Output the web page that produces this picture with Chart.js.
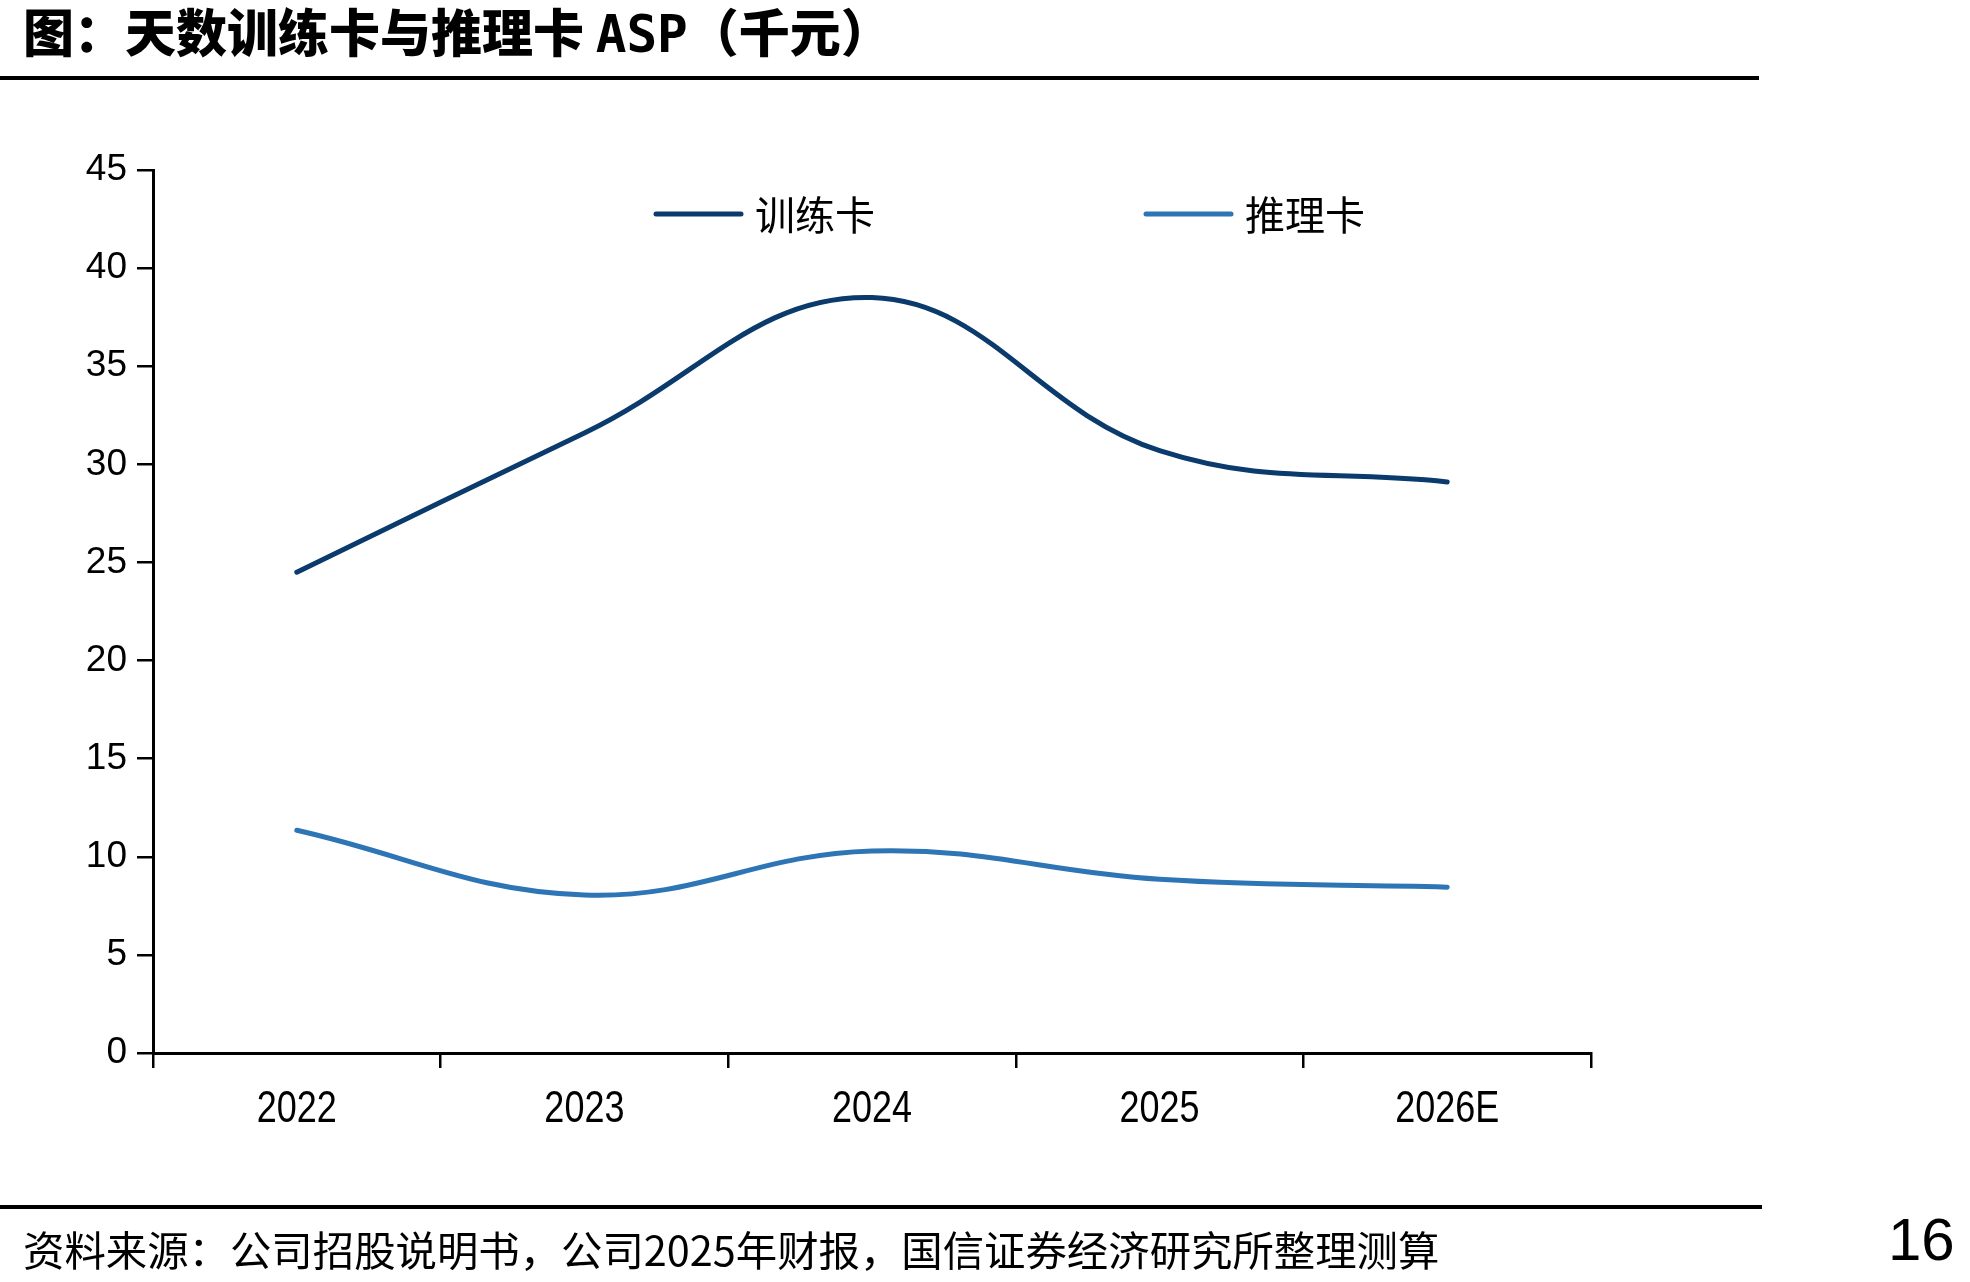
<!DOCTYPE html>
<html>
<head>
<meta charset="utf-8">
<script src="https://cdn.jsdelivr.net/npm/chart.js@4.4.1/dist/chart.umd.min.js"></script>
<style>
	body { margin: 0; background: #fff; }
	#page { position: relative; width: 1970px; height: 1282px; overflow: hidden; }
	#title { position: absolute; left: 23px; top: 0px; font: 900 51px 'Noto Sans CJK SC'; line-height: 60px; color: #000; white-space: nowrap; }
	#title .en { font-family: 'DejaVu Sans Mono', monospace; font-weight: bold; }
	.rule { position: absolute; left: 0; height: 4px; background: #000; }
	#source { position: absolute; left: 23px; top: 1223px; font: 400 41.4px 'Noto Sans CJK SC'; line-height: 50px; color: #000; white-space: nowrap; }
	#pageno { position: absolute; left: 1888px; top: 1205px; font: 400 60px 'Liberation Sans', Arial; line-height: 70px; color: #000; }
	#wrap { position: absolute; left: 0; top: 0; width: 1970px; height: 1282px; }
</style>
</head>
<body>
<div id="page">
	<div id="title">图：天数训练卡与推理卡 <span class="en">ASP</span>（千元）</div>
	<div class="rule" style="top: 76px; width: 1759px;"></div>
	<div id="wrap"><canvas id="chart"></canvas></div>
	<div class="rule" style="top: 1205px; width: 1762px;"></div>
	<div id="source">资料来源：公司招股说明书，公司2025年财报，国信证券经济研究所整理测算</div>
	<div id="pageno">16</div>
</div>
<script>
// 数据
const years = ['2022', '2023', '2024', '2025', '2026E'];
const trainLabel = '训练卡';
const trainAsp = [24.5, 31.6, 38.5, 30.7, 29.1];
const inferLabel = '推理卡';
const inferAsp = [11.35, 8.05, 10.3, 8.85, 8.45];
const yTicks = [0, 5, 10, 15, 20, 25, 30, 35, 40, 45];

const colors = { train: '#0b3a6c', infer: '#2e75b6' };

// legend drawn inside the plot, two items far apart
const legendPlugin = {
	id: 'insideLegend',
	afterDraw(chart) {
		let ctx = chart.ctx;
		let area = chart.chartArea;
		let y = area.top + 44;
		let starts = [656, 1146];
		ctx.save();
		chart.data.datasets.forEach((ds, i) => {
			let x = starts[i];
			ctx.strokeStyle = ds.borderColor;
			ctx.lineWidth = 5;
			ctx.lineCap = 'round';
			ctx.beginPath();
			ctx.moveTo(x, y);
			ctx.lineTo(x + 85, y);
			ctx.stroke();
			ctx.fillStyle = '#000';
			ctx.font = '40px "Noto Sans CJK SC"';
			ctx.textBaseline = 'middle';
			ctx.fillText(ds.label, x + 99, y + 1);
		});
		ctx.restore();
	}
};

// x labels are in a narrow face, so squeeze them horizontally
const narrowLabels = {
	id: 'narrowLabels',
	afterDraw(chart) {
		let ctx = chart.ctx;
		let scale = chart.scales.x;
		ctx.save();
		ctx.fillStyle = '#000';
		ctx.font = '45px "Liberation Sans", Arial, sans-serif';
		ctx.textAlign = 'center';
		ctx.textBaseline = 'alphabetic';
		chart.data.labels.forEach((label, i) => {
			ctx.save();
			ctx.translate(scale.getPixelForTick(i), scale.top + 69);
			ctx.scale(0.8, 1);
			ctx.fillText(label, 0, 0);
			ctx.restore();
		});
		ctx.restore();
	}
};

let chart = new Chart(document.getElementById('chart'), {
	type: 'line',
	data: {
		labels: years,
		datasets: [
			{ label: trainLabel, data: trainAsp, borderColor: colors.train, backgroundColor: colors.train },
			{ label: inferLabel, data: inferAsp, borderColor: colors.infer, backgroundColor: colors.infer },
		]
	},
	options: {
		responsive: true,
		maintainAspectRatio: false,
		animation: false,
		layout: { padding: { top: 170, right: 379, left: 0, bottom: 0 } },
		elements: {
			line: { borderWidth: 5, tension: 0.4, borderCapStyle: 'round', fill: false },
			point: { radius: 0, hoverRadius: 0 }
		},
		plugins: {
			legend: { display: false },
			title: { display: false },
			tooltip: { enabled: false }
		},
		scales: {
			x: {
				type: 'category',
				offset: true,
				grid: { offset: true, drawOnChartArea: false, drawTicks: true, tickLength: 15, color: '#000', lineWidth: 2.5 },
				border: { display: true, color: '#000', width: 3 },
				ticks: { display: false },
				afterFit: (scale) => { scale.height = 229; }
			},
			y: {
				min: 0,
				max: 45,
				afterBuildTicks: (scale) => { scale.ticks = yTicks.map((v) => ({ value: v })); },
				grid: { drawOnChartArea: false, drawTicks: true, tickLength: 16, color: '#000', lineWidth: 2.5 },
				border: { display: true, color: '#000', width: 3 },
				ticks: { color: '#000', padding: 10, font: { family: '"Liberation Sans", Arial, sans-serif', size: 37 } },
				afterFit: (scale) => { scale.width = 153; }
			}
		}
	},
	plugins: [legendPlugin, narrowLabels]
});
</script>
</body>
</html>
